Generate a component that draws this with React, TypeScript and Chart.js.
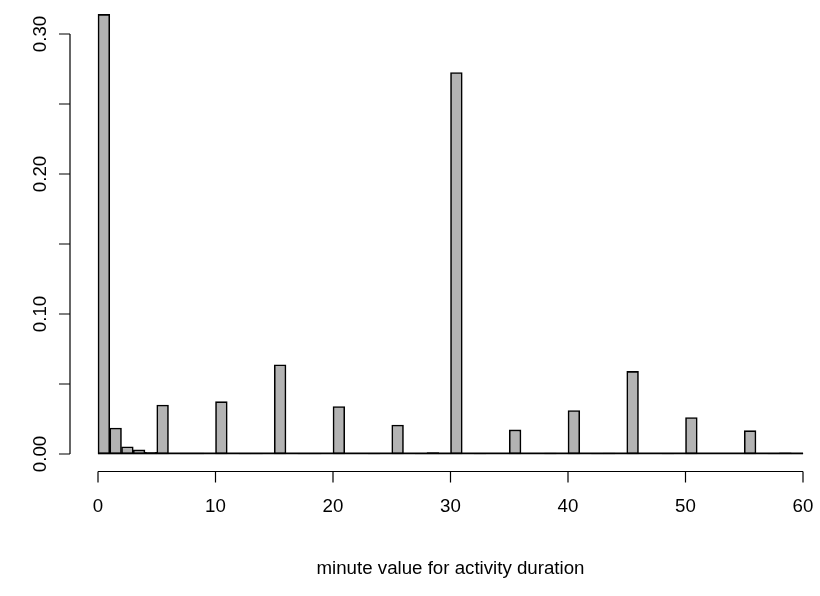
import React, { useEffect, useRef } from "react";
import { Chart, registerables } from "chart.js";

Chart.register(...registerables);

// Histogram bins (left edges, 1 minute wide)
const binStarts: number[] = Array.from({ length: 60 }, (_, i) => i);
// Density per bin
const densities: number[] = [
  0.314, 0.0186, 0.0052, 0.0029, 0.0012, 0.035, 0, 0.0006, 0.0006, 0,
  0.0374, 0, 0.0005, 0.0005, 0, 0.0637, 0, 0.0003, 0.0003, 0,
  0.0339, 0, 0, 0.0004, 0, 0.0207, 0, 0.0005, 0.001, 0.0005,
  0.2725, 0, 0.0004, 0, 0, 0.0172, 0, 0, 0.0006, 0,
  0.031, 0, 0.0004, 0.0007, 0, 0.059, 0, 0, 0.0004, 0,
  0.026, 0, 0, 0, 0, 0.0167, 0, 0.0004, 0.0009, 0.0004,
];
const xTicks: number[] = [0, 10, 20, 30, 40, 50, 60];
const yTicks: number[] = [0, 0.05, 0.1, 0.15, 0.2, 0.25, 0.3];
const yLabelTicks: number[] = [0, 0.1, 0.2, 0.3];
const xTitle = "minute value for activity duration";

const FONT = '18.7px "Liberation Sans", Arial, Helvetica, sans-serif';

const rAxesPlugin = {
  id: "rAxes",
  afterDatasetsDraw(chart: any) {
    // zero-height bins draw as a line along the base, as in R's hist()
    const ctx = chart.ctx as CanvasRenderingContext2D;
    const xs = chart.scales.x;
    const ys = chart.scales.y;
    const y0 = ys.getPixelForValue(0);
    ctx.save();
    ctx.strokeStyle = "#000";
    ctx.lineWidth = 1.8;
    ctx.beginPath();
    ctx.moveTo(xs.getPixelForValue(binStarts[0]), y0 - 0.7);
    ctx.lineTo(xs.getPixelForValue(binStarts[binStarts.length - 1] + 1), y0 - 0.7);
    ctx.stroke();
    ctx.restore();
  },
  afterDraw(chart: any) {
    const ctx = chart.ctx as CanvasRenderingContext2D;
    const xs = chart.scales.x;
    const ys = chart.scales.y;
    ctx.save();
    ctx.strokeStyle = "#000";
    ctx.fillStyle = "#000";
    ctx.lineWidth = 1.2;
    ctx.font = FONT;

    // x axis (offset below the bars, like R)
    const axisY = ys.getPixelForValue(0) + 17.5;
    const x0 = xs.getPixelForValue(xTicks[0]);
    const x1 = xs.getPixelForValue(xTicks[xTicks.length - 1]);
    ctx.beginPath();
    ctx.moveTo(x0, axisY);
    ctx.lineTo(x1, axisY);
    for (const t of xTicks) {
      const px = xs.getPixelForValue(t);
      ctx.moveTo(px, axisY);
      ctx.lineTo(px, axisY + 11);
    }
    ctx.stroke();
    ctx.textAlign = "center";
    ctx.textBaseline = "alphabetic";
    for (const t of xTicks) {
      ctx.fillText(String(t), xs.getPixelForValue(t), 512);
    }
    ctx.fillText(xTitle, (x0 + x1) / 2, 574);

    // y axis
    const axisX = xs.getPixelForValue(0) - 28;
    const yA = ys.getPixelForValue(yTicks[0]);
    const yB = ys.getPixelForValue(yTicks[yTicks.length - 1]);
    ctx.beginPath();
    ctx.moveTo(axisX, yA);
    ctx.lineTo(axisX, yB);
    for (const t of yTicks) {
      const py = ys.getPixelForValue(t);
      ctx.moveTo(axisX, py);
      ctx.lineTo(axisX - 11, py);
    }
    ctx.stroke();
    for (const t of yLabelTicks) {
      const py = ys.getPixelForValue(t);
      ctx.save();
      ctx.translate(axisX - 24, py);
      ctx.rotate(-Math.PI / 2);
      ctx.textAlign = "center";
      ctx.textBaseline = "alphabetic";
      ctx.fillText(t.toFixed(2), 0, 0);
      ctx.restore();
    }
    ctx.restore();
  },
};

export default function App() {
  const canvasRef = useRef<HTMLCanvasElement | null>(null);

  useEffect(() => {
    if (!canvasRef.current) return;
    const chart = new Chart(canvasRef.current, {
      type: "bar",
      data: {
        datasets: [
          {
            data: binStarts.map((s, i) => ({ x: s + 0.5, y: densities[i] })),
            backgroundColor: "#b3b3b3",
            borderColor: "#000000",
            borderWidth: 1.6,
            borderSkipped: false,
            barPercentage: 1,
            categoryPercentage: 1,
            clip: false as any,
            grouped: false,
          } as any,
        ],
      },
      options: {
        responsive: false,
        animation: false,
        devicePixelRatio: 1,
        layout: { padding: { left: 98, right: 17, top: 34, bottom: 142 } },
        plugins: { legend: { display: false }, tooltip: { enabled: false } },
        scales: {
          x: { type: "linear", min: 0, max: 60, offset: false, display: false },
          y: { type: "linear", min: 0, max: 0.3, display: false },
        },
      },
      plugins: [rAxesPlugin],
    });
    return () => chart.destroy();
  }, []);

  return (
    <div style={{ position: "absolute", left: 0, top: 0, width: 820, height: 596, background: "#fff" }}>
      <canvas ref={canvasRef} width={820} height={596} />
    </div>
  );
}
